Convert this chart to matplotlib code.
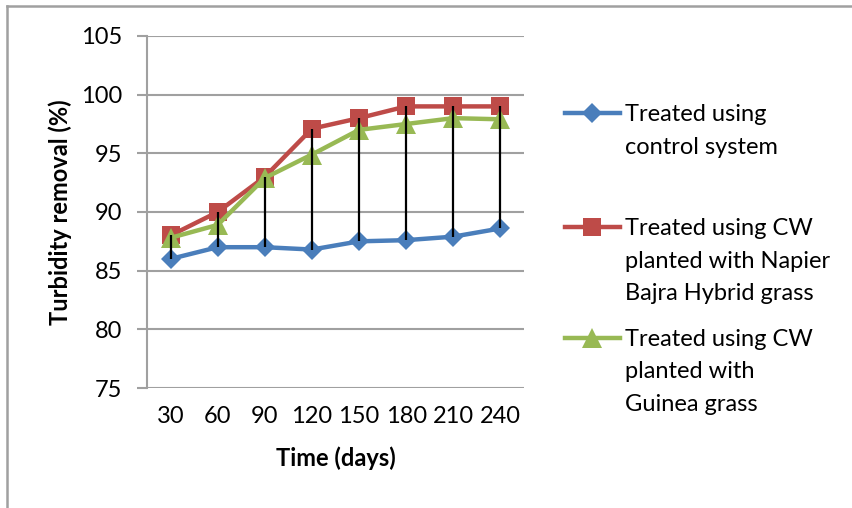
import matplotlib
matplotlib.use("Agg")
import matplotlib.pyplot as plt
from matplotlib.lines import Line2D
import numpy as np

# ---- data ----
days = ["30", "60", "90", "120", "150", "180", "210", "240"]
control = [86.0, 87.0, 87.0, 86.8, 87.5, 87.6, 87.9, 88.6]
napier = [88.0, 90.0, 93.0, 97.1, 98.0, 99.0, 99.0, 99.0]
guinea = [87.8, 88.9, 92.9, 94.9, 97.0, 97.5, 98.0, 97.9]
labels = ["Treated using\ncontrol system",
          "Treated using CW\nplanted with Napier\nBajra Hybrid grass",
          "Treated using CW\nplanted with\nGuinea grass"]
yticks = [75, 80, 85, 90, 95, 100, 105]

colors = ["#4A7EBB", "#BE4B48", "#98B954"]
markers = ["D", "s", "^"]
msizes = [10, 13, 14]

FONT = "Lato"
FS = 17
plt.rcParams["font.family"] = [FONT, "DejaVu Sans"]

W, H = 853, 508
fig = plt.figure(figsize=(W / 100, H / 100), dpi=100)
ax = fig.add_axes([147 / W, 1 - 388 / H, (524 - 147) / W, (388 - 36) / H])

x = np.arange(len(days))
series = [control, napier, guinea]
for s, c, m, ms in zip(series, colors, markers, msizes):
    ax.plot(x, s, color=c, lw=3.2, marker=m, ms=ms, mew=0, zorder=3)

# high-low lines
arr = np.array(series)
ax.vlines(x, arr.min(axis=0), arr.max(axis=0), color="black", lw=1.6, zorder=4)

ax.set_xlim(-0.5, len(days) - 0.5)
ax.set_ylim(75, 105)
ax.set_yticks(yticks)
ax.set_yticklabels([str(t) for t in yticks], fontsize=FS)
ax.set_xticks(x)
ax.set_xticklabels(days, fontsize=FS)
ax.tick_params(axis="x", length=0, pad=13)
ax.tick_params(axis="y", length=7, width=1.5, color="#A0A0A0", pad=11)
ax.yaxis.grid(True, color="#A0A0A0", lw=1.5)
ax.set_axisbelow(True)
for sp in ["top", "right", "bottom"]:
    ax.spines[sp].set_visible(False)
ax.spines["left"].set_color("#A0A0A0")
ax.spines["left"].set_linewidth(1.5)

ax.set_xlabel("Time (days)", fontsize=FS, fontweight="bold", labelpad=14)
ax.set_ylabel("Turbidity removal (%)", fontsize=FS, fontweight="bold", va="center")
ax.yaxis.set_label_coords((60 - 147) / (524 - 147), 0.5)

# chart area border (top and left visible)
fig.add_artist(Line2D([7 / W, 1.0], [1 - 6 / H, 1 - 6 / H], transform=fig.transFigure,
                      color="#A0A0A0", lw=1.8))
fig.add_artist(Line2D([7 / W, 7 / W], [0, 1 - 6 / H], transform=fig.transFigure,
                      color="#A0A0A0", lw=1.8))

# legend (manual, Excel style: handle aligned with first text line)
entry_y = [113, 227, 338]
line_gap = 32.5
for lab, c, m, ms, yc in zip(labels, colors, markers, msizes, entry_y):
    fig.add_artist(Line2D([565 / W, 620 / W], [1 - yc / H, 1 - yc / H],
                          transform=fig.transFigure, color=c, lw=3.2))
    fig.add_artist(Line2D([592.5 / W], [1 - yc / H], transform=fig.transFigure,
                          color=c, marker=m, ms=ms, mew=0, lw=0))
    for i, ln in enumerate(lab.split("\n")):
        yb = yc + i * line_gap + 8
        fig.text(625 / W, 1 - yb / H, ln, fontsize=FS, va="baseline", ha="left")

fig.savefig("out.png", dpi=100)
